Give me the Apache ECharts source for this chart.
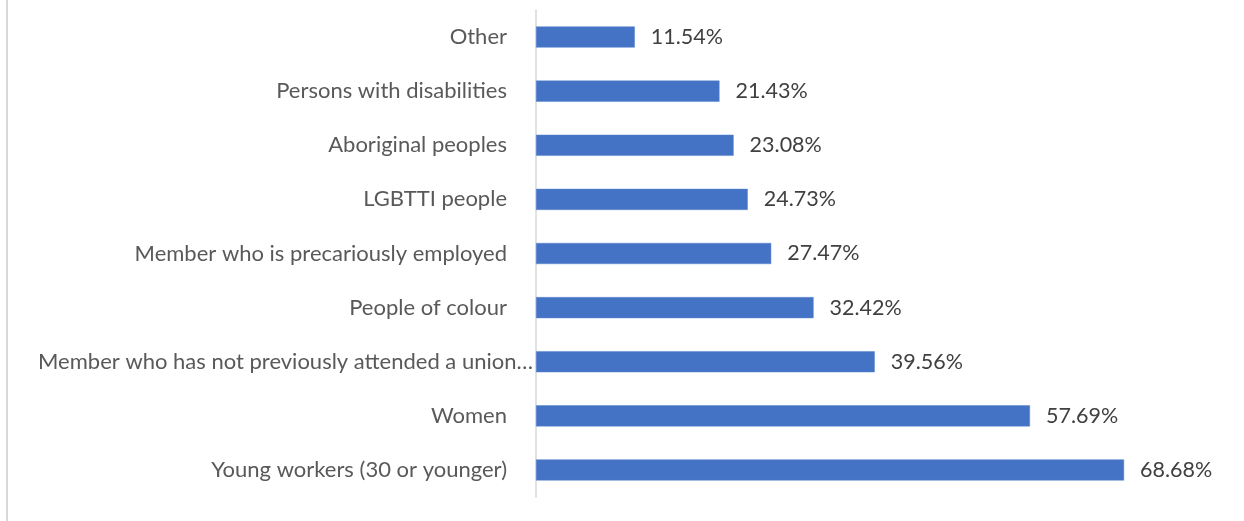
<!DOCTYPE html>
<html>
<head>
<meta charset="utf-8">
<script src="https://cdn.jsdelivr.net/npm/echarts@6/dist/echarts.min.js"></script>
<style>
  html, body { margin: 0; padding: 0; background: #fff; }
  #chart { width: 1244px; height: 521px; }
</style>
</head>
<body>
<div id="chart"></div>
<script>
// Groups listed top to bottom
const categories = [
  'Other',
  'Persons with disabilities',
  'Aboriginal peoples',
  'LGBTTI people',
  'Member who is precariously employed',
  'People of colour',
  'Member who has not previously attended a union\u2026',
  'Women',
  'Young workers (30 or younger)'
];
const percentages = [11.54, 21.43, 23.08, 24.73, 27.47, 32.42, 39.56, 57.69, 68.68];

const chart = echarts.init(document.getElementById('chart'));
const FONT = 'Lato, "Open Sans", sans-serif';

chart.setOption({
  backgroundColor: '#ffffff',
  animation: false,
  graphic: [{
    type: 'line',
    shape: { x1: 7, y1: 0, x2: 7, y2: 521 },
    style: { stroke: '#d9d9d9', lineWidth: 2 }
  }],
  grid: { left: 536, right: 23, top: 10, bottom: 24 },
  xAxis: {
    type: 'value',
    min: 0,
    max: 80,
    show: false
  },
  yAxis: {
    type: 'category',
    inverse: true,
    data: categories,
    axisLine: { show: true, lineStyle: { color: '#d9d9d9', width: 1.5 } },
    axisTick: { show: false },
    splitLine: { show: false },
    axisLabel: {
      margin: 3,
      color: '#595959',
      fontFamily: FONT,
      fontSize: 22,
      formatter: function (v) {
        // long label is already truncated and sits closer to the axis
        return v.endsWith('\u2026') ? '{t|' + v + '}' : '{t|' + v + '}{gap|}';
      },
      rich: {
        t: { color: '#595959', fontFamily: FONT, fontSize: 22 },
        gap: { width: 26 }
      }
    }
  },
  series: [{
    type: 'bar',
    data: percentages,
    barWidth: '39%',
    itemStyle: { color: '#4472C4', borderColor: '#5b86d1', borderWidth: 0.5 },
    label: {
      show: true,
      position: 'right',
      distance: 16,
      color: '#404040',
      fontFamily: FONT,
      fontSize: 21.5,
      formatter: p => p.value.toFixed(2) + '%'
    }
  }]
});
</script>
</body>
</html>
